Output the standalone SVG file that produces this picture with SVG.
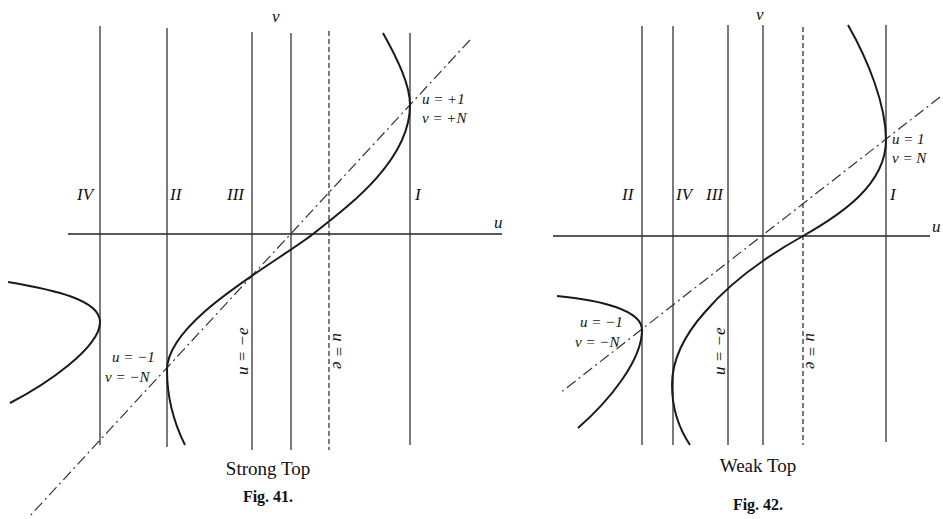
<svg xmlns="http://www.w3.org/2000/svg" width="943" height="519" viewBox="0 0 943 519">
<style>
.ln{stroke:#333;stroke-width:1.3;fill:none}
.ax{stroke:#222;stroke-width:1.6;fill:none}
.ds{stroke:#333;stroke-width:1.3;fill:none;stroke-dasharray:5 3}
.dd{stroke:#333;stroke-width:1.2;fill:none;stroke-dasharray:11 4 2 4}
.cv{stroke:#1a1a1a;stroke-width:2;fill:none}
.m{font-family:"Liberation Serif",serif;font-style:italic;font-size:17px;fill:#111}
.s{font-family:"Liberation Serif",serif;font-style:italic;font-size:15px;fill:#111}
.r{font-family:"Liberation Serif",serif;font-size:19px;fill:#111}
.f{font-family:"Liberation Serif",serif;font-weight:bold;font-size:16px;fill:#111}
</style>
<rect width="943" height="519" fill="#fff"/>
<g id="connectors">
<!-- Fig 41 -->
<line class="ax" x1="68" y1="234" x2="502" y2="234"/>
<line class="ln" x1="100" y1="26" x2="100" y2="445"/>
<line class="ln" x1="167" y1="28" x2="167" y2="447"/>
<line class="ln" x1="252" y1="32" x2="252" y2="450"/>
<line class="ln" x1="291" y1="33" x2="291" y2="450"/>
<line class="ds" x1="329" y1="31" x2="329" y2="450"/>
<line class="ln" x1="410" y1="33" x2="410" y2="445"/>
<line class="dd" x1="470" y1="40" x2="28" y2="518"/>
<path class="cv" d="M383,33 C398,60 410,85 410,105 C410,160 350,205 313,234 C276,263 167,320 167,370 C167,400 175,425 185,445"/>
<path class="cv" d="M8,282 C55,290 100,300 100,322 C100,348 45,385 10,403"/>
<!-- Fig 42 -->
<line class="ax" x1="553" y1="236" x2="930" y2="236"/>
<line class="ln" x1="642" y1="26" x2="642" y2="445"/>
<line class="ln" x1="673" y1="26" x2="673" y2="445"/>
<line class="ln" x1="728" y1="25" x2="728" y2="445"/>
<line class="ln" x1="763" y1="25" x2="763" y2="445"/>
<line class="ds" x1="803" y1="27" x2="803" y2="445"/>
<line class="ln" x1="886" y1="25" x2="886" y2="442"/>
<line class="dd" x1="940" y1="97" x2="560" y2="393"/>
<path class="cv" d="M848,25 C868,60 886,105 886,140 C886,185 840,215 803,236 C760,260 728,285 705,312 C680,340 672,365 672,385 C672,410 680,430 690,445"/>
<path class="cv" d="M557,296 C600,300 642,310 642,330 C642,360 610,400 578,428"/>
</g>
<g id="labels41">
<text class="m" x="272" y="22">v</text>
<text class="m" x="494" y="228">u</text>
<text class="m" x="77" y="200">IV</text>
<text class="m" x="170" y="200">II</text>
<text class="m" x="227" y="200">III</text>
<text class="m" x="415" y="200">I</text>
<text class="s" x="422" y="104">u = +1</text>
<text class="s" x="422" y="123">v = +N</text>
<text class="s" x="112" y="362">u = −1</text>
<text class="s" x="105" y="382">v = −N</text>
<text class="m" transform="translate(248,375) rotate(-90)">u = −e</text>
<text class="m" transform="translate(333,333) rotate(90)">u = e</text>
<text class="r" x="268" y="475" text-anchor="middle">Strong Top</text>
<text class="f" x="268" y="502" text-anchor="middle">Fig. 41.</text>
</g>
<g id="labels42">
<text class="m" x="756" y="20">v</text>
<text class="m" x="932" y="232">u</text>
<text class="m" x="622" y="200">II</text>
<text class="m" x="676" y="200">IV</text>
<text class="m" x="706" y="200">III</text>
<text class="m" x="890" y="200">I</text>
<text class="s" x="892" y="144">u = 1</text>
<text class="s" x="892" y="163">v = N</text>
<text class="s" x="580" y="327">u = −1</text>
<text class="s" x="575" y="347">v = −N</text>
<text class="m" transform="translate(725,375) rotate(-90)">u = −e</text>
<text class="m" transform="translate(806,333) rotate(90)">u = e</text>
<text class="r" x="758" y="472" text-anchor="middle">Weak Top</text>
<text class="f" x="758" y="510" text-anchor="middle">Fig. 42.</text>
</g>
</svg>
